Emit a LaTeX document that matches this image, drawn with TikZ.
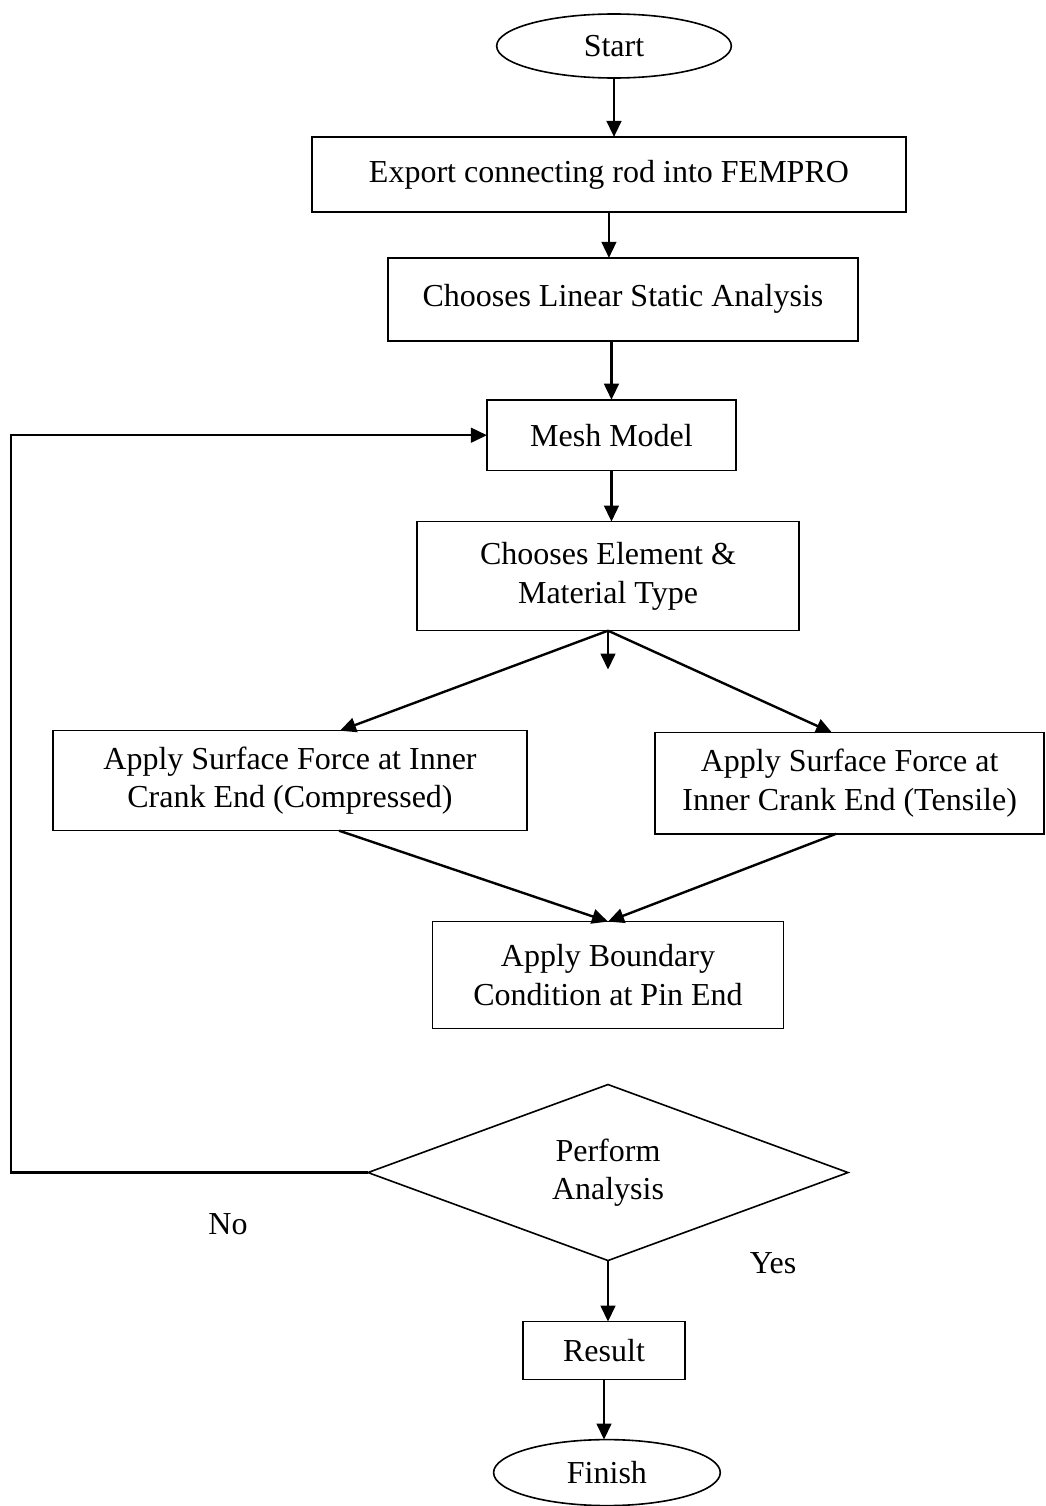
\documentclass[tikz,border=0pt]{standalone}
\usepackage{fontspec}
\setmainfont{Liberation Serif}
\usetikzlibrary{positioning}
\usetikzlibrary{arrows.meta}
\usetikzlibrary{shapes}
\usepackage{tikz}

\begin{document}
\begin{tikzpicture}[font=\fontsize{12pt}{14.5pt}\selectfont,
      box style/.style={rectangle,draw=black,line width=0.6pt,align=center,
        inner sep=2pt,outer sep=0pt},
      term style/.style={ellipse,draw=black,line width=0.6pt,align=center,
        outer sep=0pt},
      dec style/.style={diamond,draw=black,line width=0.6pt,align=center,
        aspect=2.7,inner sep=1pt,outer sep=0pt},
      flow/.style={-{Triangle[length=6pt,width=5.5pt]},line width=0.9pt}
      ]
      \useasboundingbox (0,0) rectangle (392.25pt,-564.75pt);

      \node[term style,minimum width=88pt,minimum height=24pt]
        (start) at (230.25pt,-17.25pt) {Start};
      \node[box style,minimum width=222.75pt,minimum height=28.1pt,
        below=22.1pt of start,xshift=-1.9pt] (export)
        {Export connecting rod into FEMPRO};
      \node[box style,minimum width=176.25pt,minimum height=31.1pt,
        below=17.25pt of export,xshift=5.25pt] (linear)
        {Chooses Linear Static Analysis};
      \node[box style,minimum width=93.4pt,minimum height=26.6pt,
        below=22.1pt of linear,xshift=-4.3pt] (mesh) {Mesh Model};
      \node[box style,minimum width=143.25pt,minimum height=40.9pt,
        below=19.1pt of mesh,xshift=-1.3pt] (elem)
        {Chooses Element \&\\Material Type};
      \coordinate[below=14.6pt of elem.south] (stub);
      \node[box style,minimum width=177.75pt,minimum height=37.5pt,
        below=37.5pt of elem,xshift=-119.25pt] (compr)
        {Apply Surface Force at Inner\\Crank End (Compressed)};
      \node[box style,minimum width=145.9pt,minimum height=37.9pt,
        below=38.25pt of elem,xshift=90.6pt] (tens)
        {Apply Surface Force at\\Inner Crank End (Tensile)};
      \node[box style,minimum width=131.6pt,minimum height=40.1pt,
        below=109.1pt of elem] (bound)
        {Apply Boundary\\Condition at Pin End};
      \node[dec style,minimum width=180pt,minimum height=66pt,
        below=21pt of bound] (perform) {Perform\\Analysis};
      \node[box style,minimum width=60.75pt,minimum height=21.75pt,
        below=22.9pt of perform,xshift=-1.5pt] (result) {Result};
      \node[term style,minimum width=85pt,minimum height=24.75pt,
        below=22.5pt of result,xshift=1.1pt] (finish) {Finish};
      \coordinate[left=133.9pt of perform.west] (back);
      \node[xshift=-52.5pt,yshift=-19.5pt] (no) at (perform.west) {No};
      \node[xshift=61.9pt,yshift=-1.1pt] (yes) at (perform.south) {Yes};

      \draw (start.south) edge [flow] (start.south |- export.north);
      \draw (export.south) edge [flow] (export.south |- linear.north);
      \draw (mesh.north |- linear.south) edge [flow] (mesh.north);
      \draw (mesh.south) edge [flow] (mesh.south |- elem.north);
      \draw (elem.south) edge [flow] (stub);

      \draw (elem.south) edge [flow] ([xshift=18.75pt]compr.north);
      \draw (elem.south) edge [flow] ([xshift=-6.6pt]tens.north);
      \draw ([xshift=18.4pt]compr.south) edge [flow] (bound.north);
      \draw ([xshift=-5pt]tens.south) edge [flow] (bound.north);

      \draw (perform.south) edge [flow] (perform.south |- result.north);
      \draw (result.south) edge [flow] (result.south |- finish.north);
      \draw[flow] (perform.west) -- (back) |- (mesh.west);

    \end{tikzpicture}
\end{document}
